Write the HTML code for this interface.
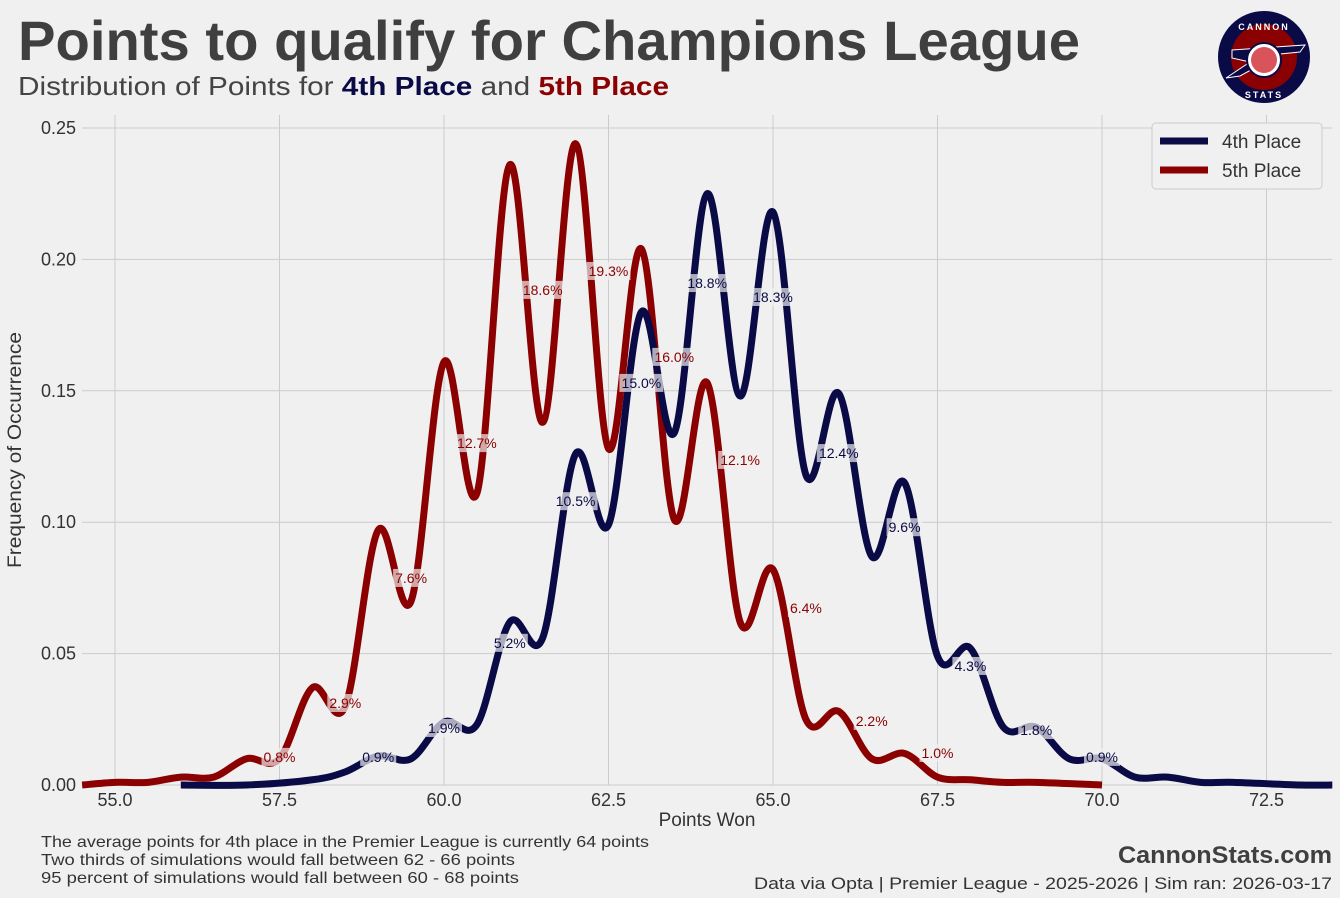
<!DOCTYPE html>
<html><head><meta charset="utf-8"><style>
body{margin:0;background:#f0f0f0;width:1340px;height:898px;overflow:hidden;font-family:"Liberation Sans",sans-serif}
svg{position:absolute;left:0;top:0}
</style></head><body>
<svg id="c" width="1340" height="898" xmlns="http://www.w3.org/2000/svg">
<text x="18" y="60" font-size="56" font-weight="bold" fill="#3f3f3f" font-family="Liberation Sans, sans-serif" textLength="1062" lengthAdjust="spacingAndGlyphs">Points to qualify for Champions League</text>
<text x="18" y="95" font-size="26" fill="#444" textLength="651" lengthAdjust="spacingAndGlyphs">Distribution of Points for <tspan font-weight="bold" fill="#0a0a46">4th Place</tspan> and <tspan font-weight="bold" fill="#8b0000">5th Place</tspan></text>
<g>
<circle cx="1264" cy="57" r="46" fill="#0a0a46"/>
<circle cx="1264" cy="57" r="33" fill="#8b0000"/>
<path d="M1232 50 L1305 45 L1300 52 L1280 54 L1240 76 L1226 78 L1250 62 L1232 58 Z" fill="#0a0a46" stroke="#fff" stroke-width="1"/>
<circle cx="1264" cy="60" r="17" fill="#fff" stroke="#0a0a46" stroke-width="2"/>
<circle cx="1264" cy="60" r="13" fill="#d9535a"/>
<text x="1264" y="30" font-size="9" font-weight="bold" fill="#fff" text-anchor="middle" letter-spacing="2">CANNON</text>
<text x="1264" y="98" font-size="9" font-weight="bold" fill="#fff" text-anchor="middle" letter-spacing="2">STATS</text>
</g>
<g id="grid"></g><g id="lines"></g><g id="labels"></g>
<text x="707" y="826" font-size="19" fill="#333" text-anchor="middle">Points Won</text>
<text transform="translate(21,450) rotate(-90)" font-size="19" fill="#333" text-anchor="middle" textLength="236" lengthAdjust="spacingAndGlyphs">Frequency of Occurrence</text>
<g>
<rect x="1152" y="123" width="170" height="66" rx="4" fill="#f0f0f0" stroke="#ccc"/>
<line x1="1160" y1="141" x2="1208" y2="141" stroke="#0a0a46" stroke-width="7"/>
<text x="1222" y="148" font-size="19" fill="#333">4th Place</text>
<line x1="1160" y1="170" x2="1208" y2="170" stroke="#8b0000" stroke-width="7"/>
<text x="1222" y="177" font-size="19" fill="#333">5th Place</text>
</g>
<g font-size="16" fill="#333">
<text x="41" y="847" textLength="608" lengthAdjust="spacingAndGlyphs">The average points for 4th place in the Premier League is currently 64 points</text>
<text x="41" y="865" textLength="474" lengthAdjust="spacingAndGlyphs">Two thirds of simulations would fall between 62 - 66 points</text>
<text x="41" y="883" textLength="478" lengthAdjust="spacingAndGlyphs">95 percent of simulations would fall between 60 - 68 points</text>
</g>
<text x="1332" y="863" font-size="24" font-weight="bold" fill="#3f3f3f" text-anchor="end" textLength="214" lengthAdjust="spacingAndGlyphs">CannonStats.com</text>
<text x="1332" y="889" font-size="17" fill="#333" text-anchor="end" textLength="578" lengthAdjust="spacingAndGlyphs">Data via Opta | Premier League - 2025-2026 | Sim ran: 2026-03-17</text>
</svg>
<script>
const xTicks=[55,57.5,60,62.5,65,67.5,70,72.5];
const yTicks=[0,0.05,0.1,0.15,0.2,0.25];
const x4=[56,57,58,58.5,59,59.5,60,60.5,61,61.5,62,62.5,63,63.5,64,64.5,65,65.5,66,66.5,67,67.5,68,68.5,69,69.5,70,70.5,71,71.5,72,73,73.5];
const y4=[0,0,0.002,0.005,0.011,0.010,0.024,0.023,0.062,0.056,0.126,0.099,0.180,0.134,0.225,0.148,0.218,0.118,0.149,0.087,0.115,0.049,0.052,0.022,0.022,0.010,0.010,0.003,0.003,0.001,0.001,0,0];
const x5=[54.5,55,55.5,56,56.5,57,57.5,58,58.5,59,59.5,60,60.5,61,61.5,62,62.5,63,63.5,64,64.5,65,65.5,66,66.5,67,67.5,68,68.5,69,70];
const y5=[0,0.001,0.001,0.003,0.003,0.010,0.010,0.037,0.030,0.097,0.070,0.161,0.111,0.236,0.138,0.244,0.128,0.204,0.101,0.153,0.062,0.082,0.025,0.028,0.010,0.012,0.003,0.002,0.001,0.001,0];
const lab4x=[59,60,61,62,63,64,65,66,67,68,69,70];
const lab4y=[0.0107,0.0217,0.0541,0.1080,0.1530,0.1910,0.1857,0.1263,0.0981,0.0453,0.0209,0.0107];
const lab4t=["0.9%","1.9%","5.2%","10.5%","15.0%","18.8%","18.3%","12.4%","9.6%","4.3%","1.8%","0.9%"];
const lab5x=[57.5,58.5,59.5,60.5,61.5,62.5,63.5,64.5,65.5,66.5,67.5];
const lab5y=[0.0107,0.0312,0.0788,0.1301,0.1884,0.1956,0.1629,0.1237,0.0674,0.0244,0.0122];
const lab5t=["0.8%","2.9%","7.6%","12.7%","18.6%","19.3%","16.0%","12.1%","6.4%","2.2%","1.0%"];
const NS="http://www.w3.org/2000/svg";
const X=v=>115+(v-55)*65.8, Y=v=>785-v*2628;
function mk(t,a,p){const e=document.createElementNS(NS,t);for(const k in a)e.setAttribute(k,a[k]);p.appendChild(e);return e;}
const g=document.getElementById('grid');
xTicks.forEach(t=>{
 const l=mk('line',{x1:X(t),x2:X(t),y1:115,y2:785,stroke:'#cbcbcb','stroke-width':1},g);
 
 
 const s=mk('text',{x:X(t),y:806,'font-size':18,fill:'#333','text-anchor':'middle'},g);s.textContent=t.toFixed(1);
 
 
});
yTicks.forEach(t=>{
 const l=mk('line',{x1:82,x2:1332,y1:Y(t),y2:Y(t),stroke:'#cbcbcb','stroke-width':1},g);
 
 
 const s=mk('text',{x:76,y:Y(t)+6,'font-size':18,fill:'#333','text-anchor':'end'},g);s.textContent=t.toFixed(2);
 
 
});
function path(xs,ys){const P=xs.map((x,i)=>[X(x),Y(ys[i])]);let d='M'+P[0];
 for(let i=0;i<P.length-1;i++){const p0=P[i-1]||P[i],p1=P[i],p2=P[i+1],p3=P[i+2]||P[i+1];
  const c1=[p1[0]+(p2[0]-p0[0])/6,p1[1]+(p2[1]-p0[1])/6],c2=[p2[0]-(p3[0]-p1[0])/6,p2[1]-(p3[1]-p1[1])/6];
  d+=' C'+c1+' '+c2+' '+p2;}return d;}
const L=document.getElementById('lines');
const p5=mk('path',{d:path(x5,y5),fill:'none',stroke:'#8b0000','stroke-width':7,'stroke-linejoin':'round'},L);


const p4=mk('path',{d:path(x4,y4),fill:'none',stroke:'#0a0a46','stroke-width':7,'stroke-linejoin':'round'},L);


const LB=document.getElementById('labels');
function labs(xs,ys,ts,col){xs.forEach((x,i)=>{
 const w=ts[i].length*8+4;
 mk('rect',{x:X(x)-w/2,y:Y(ys[i])-9,width:w,height:18,fill:'#f0f0f0','fill-opacity':0.7},LB);
 const t=mk('text',{x:X(x),y:Y(ys[i])+5,'font-size':14,fill:col,'text-anchor':'middle'},LB);t.textContent=ts[i];
 
 
});}
labs(lab4x,lab4y,lab4t,'#0a0a46');labs(lab5x,lab5y,lab5t,'#8b0000');
</script>
</body></html>
